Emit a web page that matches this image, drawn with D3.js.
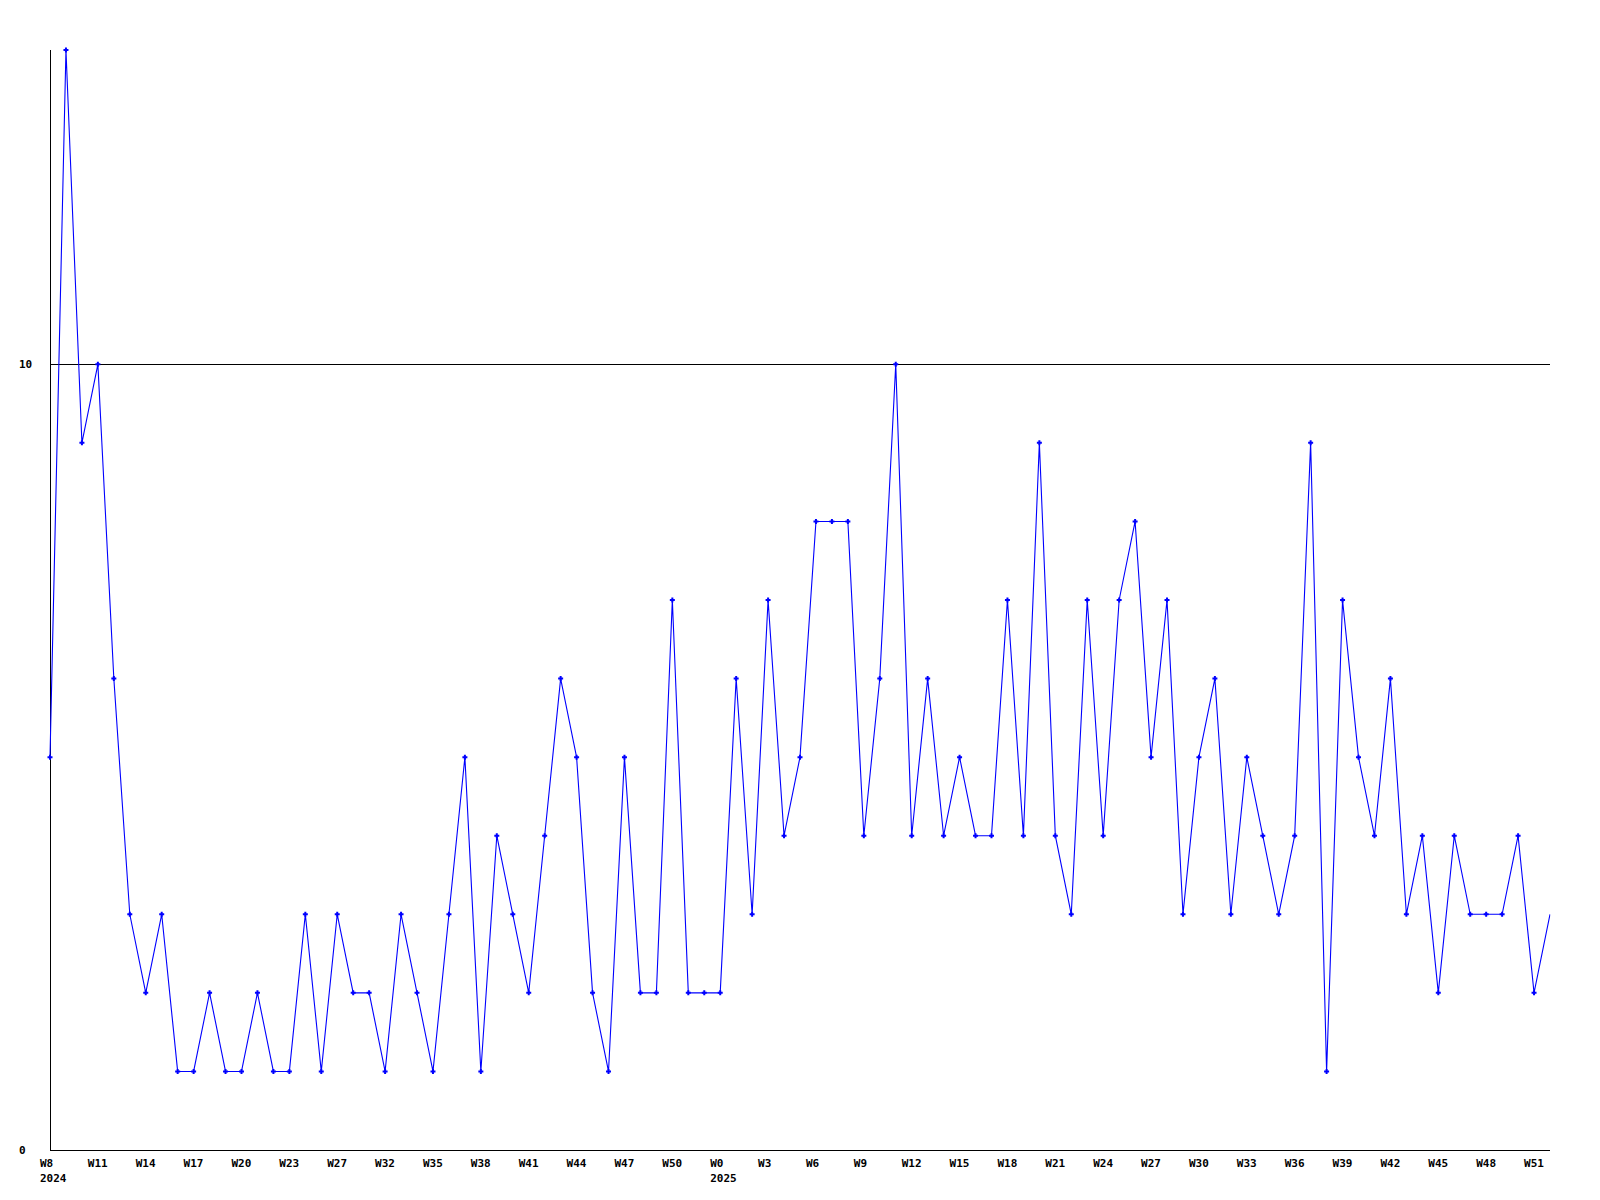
<!DOCTYPE html>
<html>
<head>
<meta charset="utf-8">
<script src="https://cdn.jsdelivr.net/npm/d3@7"></script>
<style>
  html, body { margin: 0; padding: 0; background: #fff; }
  svg { display: block; }
  .lbl { font-family: "DejaVu Sans Mono", monospace; font-size: 11px; font-weight: bold; fill: #000; }
</style>
</head>
<body>
<div id="chart"></div>
<script>
// one value per week, 2024 W8 onwards
const values = [
  5, 14, 9, 10, 6, 3, 2, 3, 1, 1,
  2, 1, 1, 2, 1, 1, 3, 1, 3, 2,
  2, 1, 3, 2, 1, 3, 5, 1, 4, 3,
  2, 4, 6, 5, 2, 1, 5, 2, 2, 7,
  2, 2, 2, 6, 3, 7, 4, 5, 8, 8,
  8, 4, 6, 10, 4, 6, 4, 5, 4, 4,
  7, 4, 9, 4, 3, 7, 4, 7, 8, 5,
  7, 3, 5, 6, 3, 5, 4, 3, 4, 9,
  1, 7, 5, 4, 6, 3, 4, 2, 4, 3,
  3, 3, 4, 2, 3
];

// x labels, one every 3 points
const weekLabels = ['W8', 'W11', 'W14', 'W17', 'W20', 'W23', 'W27', 'W32', 'W35', 'W38',
  'W41', 'W44', 'W47', 'W50', 'W0', 'W3', 'W6', 'W9', 'W12', 'W15',
  'W18', 'W21', 'W24', 'W27', 'W30', 'W33', 'W36', 'W39', 'W42', 'W45',
  'W48', 'W51'];
const labelStep = 3;
const yearLabels = ['2024', '2025'];
const yearIndex = [0, 42];
const yTicks = [0, 10];
const yMax = 14;

const width = 1600, height = 1200;
const margin = {left: 50, right: 1550, top: 50, bottom: 1150};

const svg = d3.select('#chart').append('svg')
  .attr('width', width)
  .attr('height', height);

const x = d3.scaleLinear().domain([0, values.length - 1]).range([margin.left, margin.right]);
const y = d3.scaleLinear().domain([0, yMax]).range([margin.bottom, margin.top]);

const defs = svg.append('defs');
defs.append('clipPath').attr('id', 'plot')
  .append('rect')
  .attr('x', 0).attr('y', 0)
  .attr('width', margin.right + 0.5).attr('height', height);
// the last point sits on the right edge and its marker is cut off there
defs.append('clipPath').attr('id', 'marks')
  .append('rect')
  .attr('x', 0).attr('y', 0)
  .attr('width', margin.right - 3).attr('height', height);

// horizontal line at 10
svg.selectAll('.hline')
  .data(yTicks.filter(d => d > 0))
  .enter().append('line')
  .attr('x1', margin.left).attr('x2', margin.right)
  .attr('y1', d => Math.round(y(d)) + 0.5).attr('y2', d => Math.round(y(d)) + 0.5)
  .attr('stroke', '#000').attr('stroke-width', 1);

// axes
svg.append('line')
  .attr('x1', margin.left + 0.5).attr('x2', margin.left + 0.5)
  .attr('y1', margin.top).attr('y2', margin.bottom + 0.5)
  .attr('stroke', '#000');
svg.append('line')
  .attr('x1', margin.left).attr('x2', margin.right)
  .attr('y1', margin.bottom + 0.5).attr('y2', margin.bottom + 0.5)
  .attr('stroke', '#000');

svg.selectAll('.ylbl')
  .data(yTicks)
  .enter().append('text')
  .attr('class', 'lbl')
  .attr('x', 19)
  .attr('y', d => y(d) + 4)
  .text(d => d);

svg.selectAll('.xlbl')
  .data(weekLabels)
  .enter().append('text')
  .attr('class', 'lbl')
  .attr('x', (d, i) => x(i * labelStep) - 10)
  .attr('y', 1167)
  .text(d => d);

svg.selectAll('.year')
  .data(yearLabels)
  .enter().append('text')
  .attr('class', 'lbl')
  .attr('x', (d, i) => x(yearIndex[i]) - 10)
  .attr('y', 1182)
  .text(d => d);

const line = d3.line()
  .x((d, i) => x(i))
  .y(d => y(d));

svg.append('g').attr('clip-path', 'url(#plot)')
  .append('path')
  .datum(values)
  .attr('d', line)
  .attr('fill', 'none')
  .attr('stroke', '#0000ff')
  .attr('stroke-width', 1.1);

// small plus-shaped markers
const plus = 'M-1,-2.5H1V-1H2.5V1H1V2.5H-1V1H-2.5V-1H-1Z';
svg.append('g').attr('clip-path', 'url(#marks)')
  .selectAll('.pt')
  .data(values)
  .enter().append('path')
  .attr('class', 'pt')
  .attr('transform', (d, i) => 'translate(' + x(i) + ',' + y(d) + ')')
  .attr('d', plus)
  .attr('fill', '#0000ff');
</script>
</body>
</html>
